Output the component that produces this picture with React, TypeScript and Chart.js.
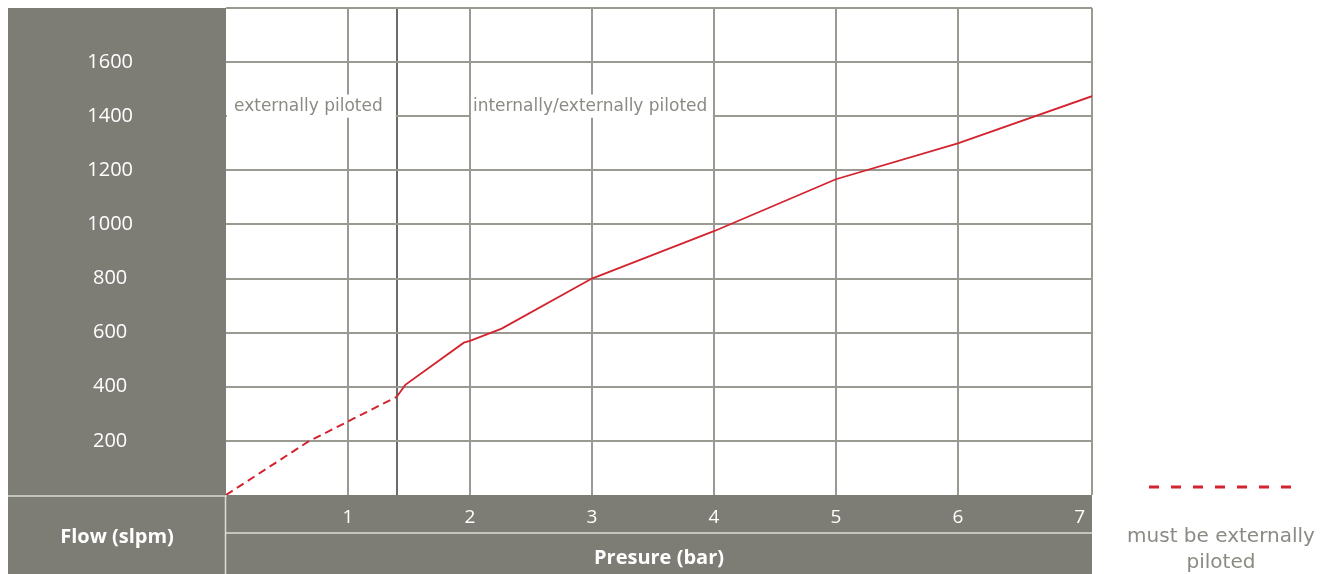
import React, { useEffect, useRef } from 'react';
import { Chart, registerables } from 'chart.js';

Chart.register(...registerables);

// ---- data ----
const pressureDashed = [0, 0.67, 1.04, 1.4];
const flowDashed = [0, 196, 281, 363];
const pressureSolid = [1.4, 1.47, 1.95, 2.0, 2.26, 3, 4, 5, 6, 7.1];
const flowSolid = [363, 407, 563, 570, 615, 800, 975, 1167, 1300, 1474];

const xGridValues = [1, 1.4, 2, 3, 4, 5, 6, 7, 7.1];
const xTickLabels = [1, 2, 3, 4, 5, 6, 7];
const xHiddenGrid = [7];
const yTickLabels = [200, 400, 600, 800, 1000, 1200, 1400, 1600];

const regionLabels = ['externally piloted', 'internally/externally piloted'];
const regionFrom = [0, 2];
const regionTo = [1.4, 4];
const regionFlowLow = 1400;
const regionFlowHigh = 1480;

const legendLines = ['must be externally', 'piloted'];
const yTitle = 'Flow (slpm)';
const xTitle = 'Presure (bar)';

// ---- styles ----
const GRAY = '#7e7d75';
const GRID = '#9b9a92';
const GRID_DARK = '#6c6b65';
const RED = '#d3232e';
const TEXT_GRAY = '#8b8a83';

const decorPlugin = {
  id: 'decor',
  beforeDraw(chart: any) {
    const { ctx, chartArea: a } = chart;
    const H = chart.height;
    ctx.save();
    ctx.fillStyle = '#ffffff';
    ctx.fillRect(0, 0, chart.width, H);
    ctx.fillStyle = GRAY;
    ctx.fillRect(8, 8, a.left - 8, H - 8);
    ctx.fillRect(a.left, a.bottom, a.right - a.left, H - a.bottom);
    ctx.strokeStyle = '#dcdbd6';
    ctx.lineWidth = 1.5;
    ctx.beginPath();
    ctx.moveTo(8, a.bottom + 1);
    ctx.lineTo(a.left + 1, a.bottom + 1);
    ctx.moveTo(a.left - 0.5, a.bottom + 1);
    ctx.lineTo(a.left - 0.5, H);
    ctx.moveTo(a.left - 0.5, a.bottom + 38);
    ctx.lineTo(a.right, a.bottom + 38);
    ctx.stroke();
    ctx.restore();
  },
  afterDraw(chart: any) {
    const { ctx, chartArea: a, scales } = chart;
    const xs = scales.x;
    const ys = scales.y;
    ctx.save();
    // region label boxes
    ctx.font = '17px "DejaVu Sans"';
    ctx.textBaseline = 'middle';
    ctx.textAlign = 'left';
    for (let i = 0; i < regionLabels.length; i++) {
      const x0 = xs.getPixelForValue(regionFrom[i]);
      const x1 = xs.getPixelForValue(regionTo[i]);
      const yTop = ys.getPixelForValue(regionFlowHigh);
      const yBot = ys.getPixelForValue(regionFlowLow);
      ctx.fillStyle = '#ffffff';
      ctx.fillRect(x0 + 1, yTop, x1 - x0 - 2, yBot - yTop + 1.5);
      ctx.fillStyle = TEXT_GRAY;
      ctx.fillText(regionLabels[i], x0 + (i === 0 ? 8 : 3), (yTop + yBot) / 2 + 1);
    }
    // legend
    ctx.strokeStyle = RED;
    ctx.lineWidth = 3;
    ctx.setLineDash([10, 12]);
    ctx.beginPath();
    ctx.moveTo(a.right + 57, a.bottom - 8);
    ctx.lineTo(a.right + 200, a.bottom - 8);
    ctx.stroke();
    ctx.setLineDash([]);
    ctx.font = '20px "DejaVu Sans"';
    ctx.fillStyle = TEXT_GRAY;
    ctx.textAlign = 'center';
    legendLines.forEach((t, i) => {
      ctx.fillText(t, a.right + 129, a.bottom + 42 + i * 26);
    });
    // y title in the corner box
    ctx.font = 'bold 20px "Open Sans"';
    ctx.fillStyle = '#ffffff';
    ctx.fillText(yTitle, (8 + a.left) / 2, a.bottom + 42);
    ctx.restore();
  },
};

export default function App() {
  const ref = useRef<HTMLCanvasElement>(null);
  useEffect(() => {
    if (!ref.current) return;
    const chart = new Chart(ref.current, {
      type: 'line',
      data: {
        datasets: [
          {
            label: 'must be externally piloted',
            data: pressureDashed.map((p, i) => ({ x: p, y: flowDashed[i] })),
            borderColor: RED,
            borderWidth: 2,
            borderDash: [8, 5],
            pointRadius: 0,
            tension: 0,
          },
          {
            label: 'flow',
            data: pressureSolid.map((p, i) => ({ x: p, y: flowSolid[i] })),
            borderColor: RED,
            borderWidth: 1.8,
            pointRadius: 0,
            tension: 0,
          },
        ],
      },
      options: {
        responsive: false,
        animation: false,
        devicePixelRatio: 1,
        layout: { padding: { left: 8, top: 8, right: 238, bottom: 0 } },
        plugins: { legend: { display: false }, tooltip: { enabled: false } },
        scales: {
          x: {
            type: 'linear',
            min: 0,
            max: 7.1,
            afterBuildTicks: (axis: any) => {
              axis.ticks = xGridValues.map((v) => ({ value: v }));
            },
            afterFit: (axis: any) => {
              axis.height = 79;
              axis.paddingLeft = 0;
              axis.paddingRight = 0;
            },
            grid: {
              color: (c: any) => {
                const v = c.tick ? c.tick.value : null;
                if (v === 1.4) return GRID_DARK;
                if (xHiddenGrid.includes(v)) return 'rgba(0,0,0,0)';
                return GRID;
              },
              lineWidth: 2,
              drawTicks: false,
            },
            border: { display: false },
            ticks: {
              autoSkip: false,
              maxRotation: 0,
              padding: 11,
              color: '#ffffff',
              font: { family: '"Open Sans"', size: 19 },
              callback: (v: any) => (xTickLabels.includes(Number(v)) ? String(v) : ''),
            },
            title: {
              display: true,
              text: xTitle,
              color: '#ffffff',
              font: { family: '"Open Sans"', size: 20, weight: 'bold' },
              padding: { top: 0, bottom: 4 },
            },
          },
          y: {
            type: 'linear',
            min: 0,
            max: 1800,
            afterFit: (axis: any) => {
              axis.width = 218;
              axis.paddingTop = 0;
              axis.paddingBottom = 0;
            },
            grid: {
              color: (c: any) => (c.tick && c.tick.value === 0 ? 'rgba(0,0,0,0)' : GRID),
              lineWidth: 2,
              drawTicks: false,
            },
            border: { display: false },
            ticks: {
              stepSize: 200,
              padding: 93,
              crossAlign: 'center',
              color: '#ffffff',
              font: { family: '"Open Sans"', size: 20 },
              callback: (v: any) => (yTickLabels.includes(Number(v)) ? String(v) : ''),
            },
          },
        },
      },
      plugins: [decorPlugin],
    } as any);
    return () => chart.destroy();
  }, []);
  return (
    <div style={{ position: 'absolute', left: 0, top: 0, width: 1330, height: 574 }}>
      <canvas ref={ref} width={1330} height={574} style={{ display: 'block' }} />
    </div>
  );
}
